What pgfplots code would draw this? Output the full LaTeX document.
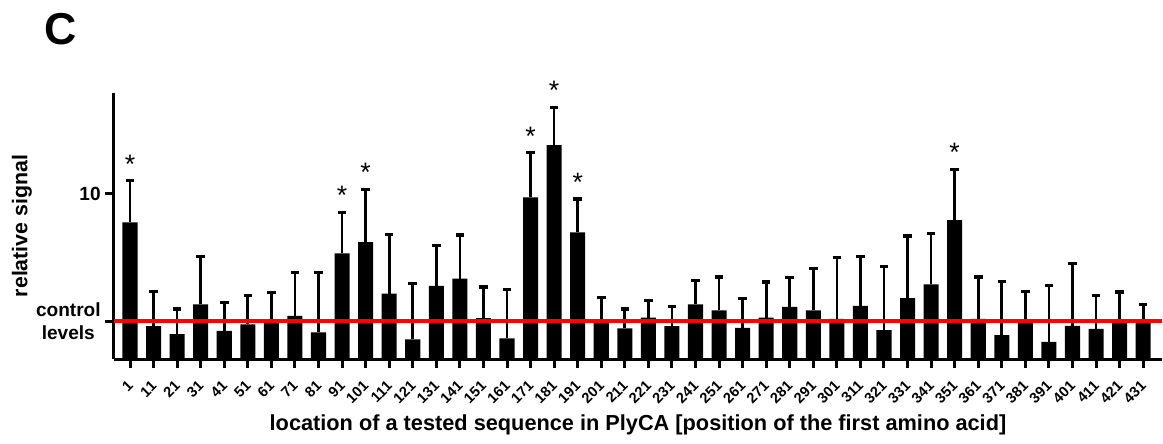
\documentclass[border=0pt]{standalone}
\usepackage{fontspec}
\setmainfont{Liberation Sans}
\usepackage{pgfplots}
\usepackage{pgfplotstable}
\pgfplotsset{compat=1.18}

% mean relative signal (v) and upper error (e) for each tested peptide
\pgfplotstableread{
i v e
0 8.27 2.51
1 1.99 2.11
2 1.51 1.52
3 3.31 2.89
4 1.71 1.72
5 2.09 1.77
6 2.25 1.77
7 2.61 2.61
8 1.61 3.61
9 6.40 2.47
10 7.07 3.21
11 3.96 3.57
12 1.19 3.37
13 4.42 2.47
14 4.86 2.65
15 2.47 1.89
16 1.25 2.95
17 9.78 2.71
18 12.95 2.29
19 7.67 2.01
20 2.25 1.47
21 1.85 1.18
22 2.51 1.04
23 1.99 1.20
24 3.31 1.45
25 2.95 2.01
26 1.89 1.76
27 2.51 2.15
28 3.15 1.77
29 2.95 2.51
30 2.43 3.69
31 3.21 3.01
32 1.75 3.87
33 3.69 3.76
34 4.52 3.09
35 8.41 3.08
36 2.43 2.53
37 1.45 3.23
38 2.25 1.85
39 1.04 3.42
40 2.01 3.75
41 1.83 2.03
42 2.25 1.81
43 2.25 1.06
}\signal

% significant peptides: position of the top of the error bar
\pgfplotstableread{
i t
0 10.78
9 8.87
10 10.28
17 12.49
18 15.24
19 9.68
35 11.49
}\significant

\begin{document}
\begin{tikzpicture}
\useasboundingbox (-85.5pt,-63pt) rectangle (786.75pt,269.25pt);
\begin{axis}[
  at={(0,0)}, anchor=south west,
  scale only axis,
  width=786pt, height=199.5pt,
  xmin=-0.68, xmax=43.8,
  ymin=0, ymax=16.1,
  clip=false,
  axis lines*=left,
  axis line style={line width=2.25pt, -},
  tick align=outside,
  major tick length=6.5pt,
  tick style={line width=2.25pt, black},
  xtick={0,...,43},
  xticklabels={1,11,21,31,41,51,61,71,81,91,101,111,121,131,141,151,161,171,181,191,201,211,221,231,241,251,261,271,281,291,301,311,321,331,341,351,361,371,381,391,401,411,421,431},
  xticklabel style={yshift=-11pt, xshift=1pt, rotate=45, anchor=east, font=\bfseries\fontsize{11}{12}\selectfont, inner sep=1pt},
  ytick={2.29,10},
  yticklabels={{control\\levels},10},
  yticklabel style={align=center, font=\bfseries\fontsize{14.3}{17.25}\selectfont},
  every axis y label/.style={at={(axis description cs:-0.0878,0.5)}, rotate=90, anchor=center},
  every axis x label/.style={at={(axis description cs:0.5,-0.248)}, anchor=center},
  ylabel={\bfseries\fontsize{16}{19}\selectfont relative signal},
  xlabel={\bfseries\fontsize{16.3}{19}\selectfont location of a tested sequence in PlyCA [position of the first amino acid]},
]
\addplot[ybar, bar width=0.64, fill=black, draw=none,
  error bars/.cd, y dir=plus, y explicit,
  error bar style={line width=2pt, black},
  error mark options={rotate=90, line width=2.4pt, mark size=3.2pt, black}]
  table[x=i, y=v, y error=e] {\signal};
% control level
\addplot[red, line width=3pt] coordinates {(-0.68,2.29) (43.8,2.29)};
% significance markers
\addplot[draw=none, mark=none, nodes near coords={*},
  every node near coord/.style={anchor=base, inner sep=0pt, yshift=5.6pt, font=\fontsize{20}{20}\selectfont}]
  table[x=i, y=t] {\significant};
\node[font=\bfseries\fontsize{33.5}{36}\selectfont, anchor=center] at (rel axis cs:-0.0506,1.2406) {C};
\end{axis}
\end{tikzpicture}
\end{document}
